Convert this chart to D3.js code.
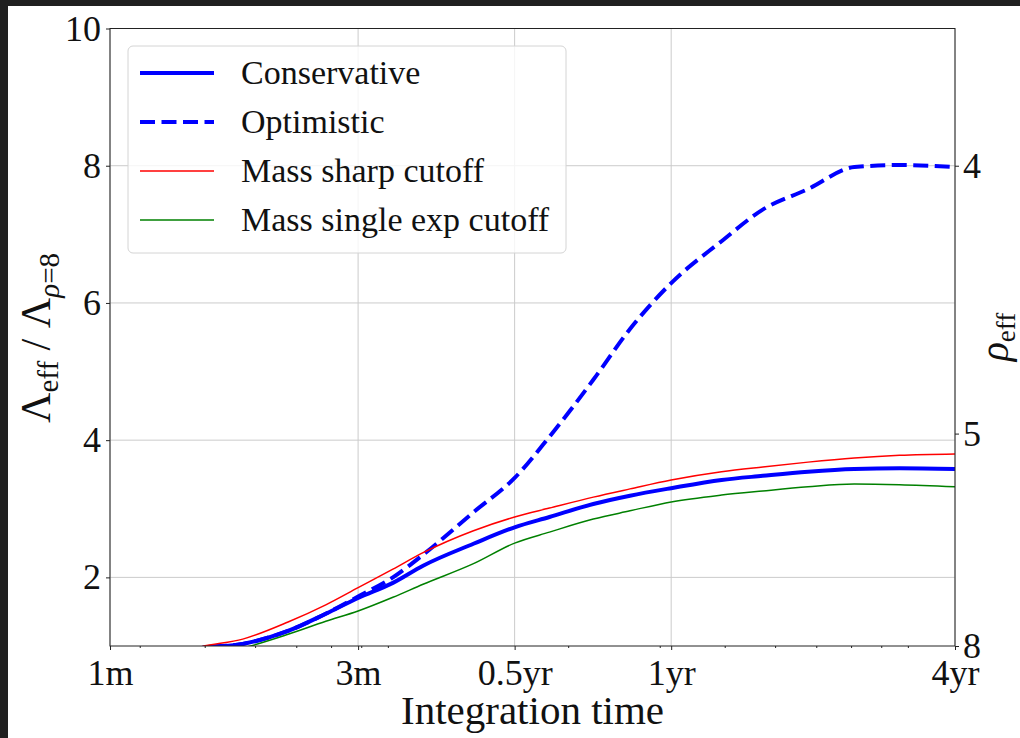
<!DOCTYPE html>
<html>
<head>
<meta charset="utf-8">
<script src="https://d3js.org/d3.v7.min.js"></script>
<style>
  body { margin: 0; background: #ffffff; }
  svg text { font-family: "Liberation Serif", "DejaVu Serif", serif; fill: #111; }
  .axis path { display: none; }
  .axis line { stroke: #222; stroke-width: 1px; }
  .grid line { stroke: #cbcbcb; stroke-width: 1px; }
</style>
</head>
<body>
<div id="chart"></div>
<script>
// time samples in months (1 month = 2629800 s, log axis in seconds)
var MONTH = 2629800;
var tMonths = [1, 1.5, 1.8, 2.2, 2.6, 3, 3.5, 4, 5, 6, 7, 8.5, 10, 12, 15, 18, 22, 27, 33, 42.17];

// Lambda_eff / Lambda_{rho=8}
var conservative = [0.5, 0.97, 1.03, 1.22, 1.47, 1.70, 1.92, 2.17, 2.49, 2.73, 2.88, 3.07, 3.19, 3.30, 3.42, 3.48, 3.54, 3.58, 3.59, 3.58];
var optimistic   = [0.5, 0.97, 1.03, 1.22, 1.47, 1.72, 2.00, 2.33, 2.95, 3.45, 4.05, 4.88, 5.62, 6.29, 6.90, 7.36, 7.66, 7.98, 8.01, 7.98];
var massSharp    = [0.5, 0.99, 1.10, 1.35, 1.60, 1.85, 2.12, 2.36, 2.68, 2.88, 3.01, 3.17, 3.29, 3.42, 3.54, 3.61, 3.68, 3.74, 3.78, 3.80];
var massSingle   = [0.4, 0.85, 0.97, 1.17, 1.36, 1.51, 1.71, 1.90, 2.20, 2.50, 2.66, 2.85, 2.97, 3.10, 3.20, 3.26, 3.32, 3.36, 3.35, 3.32];

var xTickMonths = [1, 3, 6, 12, 42.17];
var xTickLabels = ["1m", "3m", "0.5yr", "1yr", "4yr"];
var yTicks = [2, 4, 6, 8, 10];
var rhoTicks = [4, 5, 8];   // right axis: Lambda = (8/rho)^3

var seriesNames = ["Conservative", "Optimistic", "Mass sharp cutoff", "Mass single exp cutoff"];
var seriesColors = ["#0000ff", "#0000ff", "#ff0000", "#008000"];
var seriesWidths = [4, 4, 1.5, 1.5];
var seriesDash = [null, "15,6.5", null, null];
var seriesData = [conservative, optimistic, massSharp, massSingle];

var W = 1020, H = 738;
var pLeft = 110, pRight = 955, pTop = 28.5, pBottom = 646;

var svg = d3.select("#chart").append("svg")
  .attr("width", W).attr("height", H);

// dark screenshot frame
svg.append("rect").attr("x", 0).attr("y", 0).attr("width", W).attr("height", 6).attr("fill", "#202020");
svg.append("rect").attr("x", 0).attr("y", 0).attr("width", 8).attr("height", H).attr("fill", "#202020");

var x = d3.scaleLog().domain([1 * MONTH, 42.17 * MONTH]).range([pLeft, pRight]);
var y = d3.scaleLinear().domain([1, 10]).range([pBottom, pTop]);

// minor log ticks (integer multiples of powers of ten, in seconds)
var minorTicks = [];
[1e6, 1e7].forEach(function(p) {
  for (var k = 2; k <= 9; k++) {
    var v = k * p;
    if (v > x.domain()[0] && v < x.domain()[1]) minorTicks.push(v);
  }
});

// grid
svg.append("g").attr("class", "grid")
  .selectAll("line").data(xTickMonths).enter().append("line")
  .attr("x1", function(d) { return x(d * MONTH); }).attr("x2", function(d) { return x(d * MONTH); })
  .attr("y1", pTop).attr("y2", pBottom);
svg.append("g").attr("class", "grid")
  .selectAll("line").data(yTicks).enter().append("line")
  .attr("x1", pLeft).attr("x2", pRight)
  .attr("y1", function(d) { return y(d); }).attr("y2", function(d) { return y(d); });

// curves
svg.append("clipPath").attr("id", "clip")
  .append("rect").attr("x", pLeft).attr("y", pTop).attr("width", pRight - pLeft).attr("height", pBottom - pTop);

var line = d3.line()
  .x(function(d, i) { return x(tMonths[i] * MONTH); })
  .y(function(d) { return y(d); })
  .curve(d3.curveMonotoneX);

svg.append("g").attr("clip-path", "url(#clip)")
  .selectAll("path").data(seriesData).enter().append("path")
  .attr("d", line)
  .attr("fill", "none")
  .attr("stroke", function(d, i) { return seriesColors[i]; })
  .attr("stroke-width", function(d, i) { return seriesWidths[i]; })
  .attr("stroke-dasharray", function(d, i) { return seriesDash[i]; })
  .attr("stroke-linejoin", "round");

// spines
svg.append("rect").attr("x", pLeft).attr("y", pTop).attr("width", pRight - pLeft).attr("height", pBottom - pTop)
  .attr("fill", "none").attr("stroke", "#222").attr("stroke-width", 1);

// bottom axis
svg.append("g").attr("class", "axis").attr("transform", "translate(0," + pBottom + ")")
  .call(d3.axisBottom(x).tickValues(xTickMonths.map(function(m) { return m * MONTH; }))
    .tickFormat(function(d, i) { return xTickLabels[i]; }).tickSize(4).tickPadding(9));
svg.append("g").attr("class", "axis").attr("transform", "translate(0," + pBottom + ")")
  .call(d3.axisBottom(x).tickValues(minorTicks).tickFormat("").tickSize(2));

// left axis
svg.append("g").attr("class", "axis").attr("transform", "translate(" + pLeft + ",0)")
  .call(d3.axisLeft(y).tickValues(yTicks).tickFormat(d3.format("d")).tickSize(4).tickPadding(5));

// right axis (rho_eff)
svg.append("g").attr("class", "axis").attr("transform", "translate(" + pRight + ",0)")
  .call(d3.axisRight(y).tickValues(rhoTicks.map(function(r) { return Math.pow(8 / r, 3); }))
    .tickFormat(function(d, i) { return rhoTicks[i]; }).tickSize(4).tickPadding(4));

svg.selectAll(".axis text").style("font-size", "36px").style("font-family", "Liberation Serif").attr("fill", "#111");

// axis titles
svg.append("text")
  .attr("x", (pLeft + pRight) / 2).attr("y", 724)
  .attr("text-anchor", "middle").style("font-size", "41px")
  .text("Integration time");

var yl = svg.append("text")
  .attr("transform", "translate(50,338) rotate(-90)")
  .attr("text-anchor", "middle").style("font-size", "42px");
yl.append("tspan").text("\u039B");
yl.append("tspan").attr("dy", 8).style("font-size", "29px").text("eff");
yl.append("tspan").attr("dy", -8).text(" / \u039B");
yl.append("tspan").attr("dy", 9).style("font-size", "29px").style("font-style", "italic").text("\u03C1");
yl.append("tspan").style("font-size", "29px").text("=8");

var rl = svg.append("text")
  .attr("transform", "translate(1008,337) rotate(-90)")
  .attr("text-anchor", "middle").style("font-size", "40px");
rl.append("tspan").style("font-style", "italic").text("\u03C1");
rl.append("tspan").attr("dy", 7).style("font-size", "27px").text("eff");

// legend
var lg = svg.append("g");
lg.append("rect").attr("x", 128).attr("y", 46).attr("width", 438).attr("height", 207).attr("rx", 5)
  .attr("fill", "#ffffff").attr("fill-opacity", 0.8).attr("stroke", "#d4d4d4").attr("stroke-width", 1);
var rowY = d3.scaleLinear().domain([0, 3]).range([73, 220]);
var rows = lg.selectAll(".row").data(seriesNames).enter().append("g")
  .attr("transform", function(d, i) { return "translate(0," + rowY(i) + ")"; });
rows.append("line").attr("x1", 140).attr("x2", 214).attr("y1", 0).attr("y2", 0)
  .attr("stroke", function(d, i) { return seriesColors[i]; })
  .attr("stroke-width", function(d, i) { return seriesWidths[i]; })
  .attr("stroke-dasharray", function(d, i) { return seriesDash[i]; });
rows.append("text").attr("x", 241).attr("y", 0).attr("dy", "0.33em")
  .style("font-size", "34px").text(function(d) { return d; });
</script>
</body>
</html>
